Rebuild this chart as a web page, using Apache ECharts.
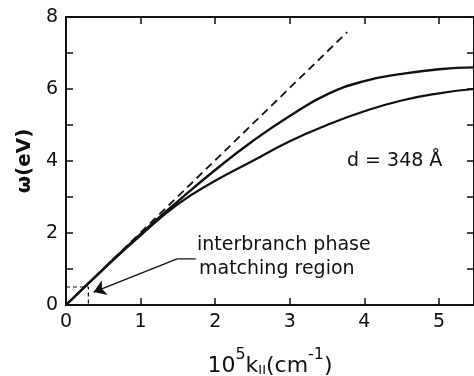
<!DOCTYPE html>
<html>
<head>
<meta charset="utf-8">
<script src="https://cdn.jsdelivr.net/npm/echarts@6/dist/echarts.min.js"></script>
<style>
  html, body { margin: 0; padding: 0; background: #fff; }
  #chart { width: 474px; height: 376px; }
</style>
</head>
<body>
<div id="chart"></div>
<script>
// 数据：色散曲线
var kUpper = [0, 0.5, 1, 1.5, 2, 2.5, 3, 3.5, 4, 4.5, 5, 5.47]
var wUpper = [0, 1.0, 1.97, 2.88, 3.75, 4.55, 5.25, 5.85, 6.22, 6.42, 6.55, 6.6]
var kLower = [0, 0.5, 1, 1.5, 2, 2.5, 3, 3.5, 4, 4.5, 5, 5.47]
var wLower = [0, 0.99, 1.93, 2.8, 3.45, 4.0, 4.55, 5.0, 5.38, 5.68, 5.88, 6.0]
// 光线（虚线）
var kLight = [0, 3.77]
var wLight = [0, 7.58]
// 相位匹配区域的虚线框
var boxK = [0, 0.3, 0.3]
var boxW = [0.5, 0.5, 0]
// 箭头路径：一小段水平线 + 带箭头的斜线
var leaderK = [1.74, 1.49]
var leaderW = [1.28, 1.28]
var arrowK = [1.49, 0.37]
var arrowW = [1.28, 0.36]
var yTicks = [0, 2, 4, 6, 8]

function zip(a, b) {
  return a.map(function(v, i) { return [v, b[i]] })
}

var font = 'DejaVu Sans'
var ink = '#111'
var chart = echarts.init(document.getElementById('chart'))

var axisCommon = {
  type: 'value',
  axisLine: { show: true, onZero: false, lineStyle: { color: ink, width: 2 } },
  axisTick: { show: true, inside: true, length: 7, lineStyle: { color: ink, width: 1.5 } },
  splitLine: { show: false }
}

chart.setOption({
  animation: false,
  grid: { left: 66, top: 17, right: 0, bottom: 71, outerBoundsMode: 'none', containLabel: false },
  xAxis: [
    Object.assign({}, axisCommon, {
      min: 0, max: 5.47, interval: 1,
      name: '{n|10}{s|5}{n|k}{b|II}{n|(cm}{s|-1}{n|)}',
      nameLocation: 'middle',
      nameGap: 42,
      nameTextStyle: {
        rich: {
          n: { fontFamily: font, fontSize: 22, color: ink, verticalAlign: 'bottom', lineHeight: 30 },
          s: { fontFamily: font, fontSize: 16, color: ink, verticalAlign: 'top', lineHeight: 30 },
          b: { fontFamily: font, fontSize: 13, color: ink, verticalAlign: 'bottom', lineHeight: 24 }
        }
      },
      axisLabel: {
        fontFamily: font, fontSize: 19, color: ink, margin: 8,
        formatter: function(v) { return Math.abs(v - Math.round(v)) < 1e-6 ? String(Math.round(v)) : '' }
      }
    }),
    Object.assign({}, axisCommon, {
      position: 'top', min: 0, max: 5.47, interval: 1,
      axisLabel: { show: false }
    })
  ],
  yAxis: [
    Object.assign({}, axisCommon, {
      min: 0, max: 8, interval: 1,
      name: 'ω(eV)',
      nameLocation: 'middle',
      nameGap: 26,
      nameTextStyle: { fontFamily: font, fontSize: 20, fontWeight: 'bold', color: ink },
      axisLabel: {
        fontFamily: font, fontSize: 19, color: ink, margin: 8,
        formatter: function(v) { return yTicks.indexOf(v) >= 0 ? String(v) : '' }
      }
    }),
    Object.assign({}, axisCommon, {
      position: 'right', min: 0, max: 8, interval: 1,
      axisLabel: { show: false }
    })
  ],
  graphic: [
    { type: 'text', left: 197, top: 236, style: { text: 'interbranch phase', fontFamily: font, fontSize: 19, fill: ink } },
    { type: 'text', left: 199, top: 260, style: { text: 'matching region', fontFamily: font, fontSize: 19, fill: ink } },
    { type: 'text', left: 347, top: 152, style: { text: 'd = 348 Å', fontFamily: font, fontSize: 19, fill: ink } }
  ],
  series: [
    {
      name: 'light', type: 'line', data: zip(kLight, wLight), showSymbol: false,
      lineStyle: { color: ink, width: 1.8, type: [8, 5] }
    },
    {
      name: 'upper', type: 'line', data: zip(kUpper, wUpper), smooth: true, showSymbol: false,
      lineStyle: { color: ink, width: 2.4 }
    },
    {
      name: 'lower', type: 'line', data: zip(kLower, wLower), smooth: true, showSymbol: false,
      lineStyle: { color: ink, width: 2.2 }
    },
    {
      name: 'box', type: 'line', data: zip(boxK, boxW), showSymbol: false,
      lineStyle: { color: ink, width: 1.2, type: [4, 3] }
    },
    {
      name: 'leader', type: 'line', data: zip(leaderK, leaderW), showSymbol: false,
      lineStyle: { color: ink, width: 1.3 }
    },
    {
      name: 'arrow', type: 'lines', coordinateSystem: 'cartesian2d',
      symbol: ['none', 'arrow'], symbolSize: [7, 12],
      lineStyle: { color: ink, width: 1.3, opacity: 1 },
      data: [{ coords: zip(arrowK, arrowW) }]
    }
  ]
})
</script>
</body>
</html>
